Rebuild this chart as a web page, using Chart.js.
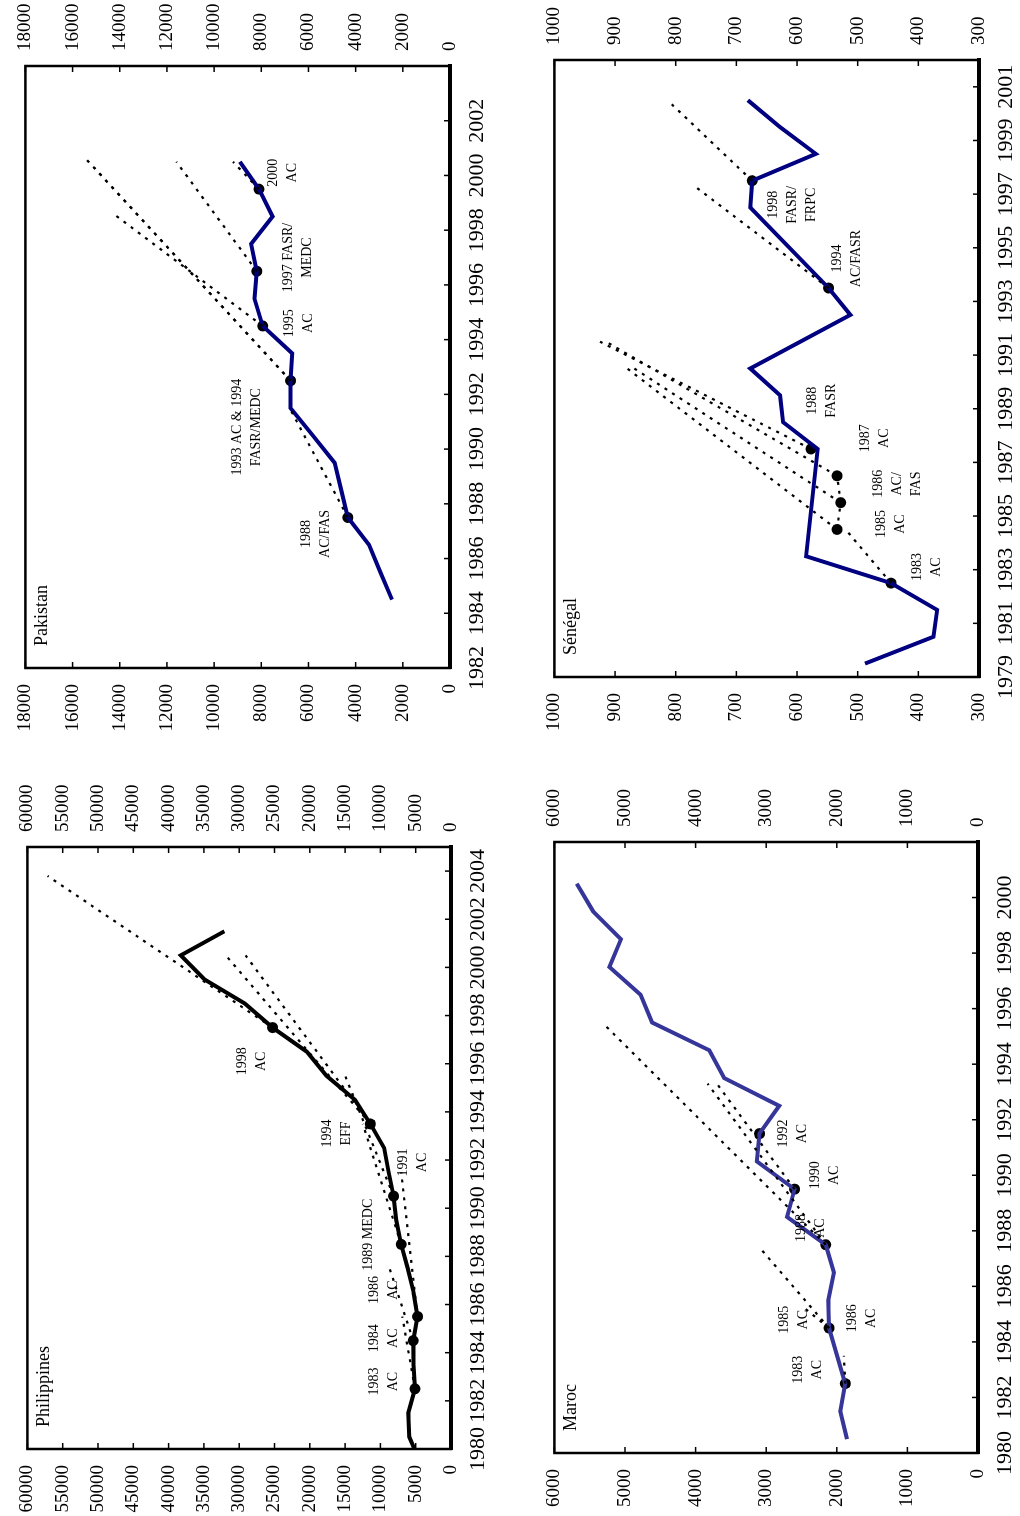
<!DOCTYPE html>
<html>
<head>
<meta charset="utf-8">
<script src="https://cdn.jsdelivr.net/npm/chart.js@4"></script>
<style>
  html, body { margin: 0; padding: 0; background: #fff; width: 1020px; height: 1516px; overflow: hidden; }
  /* the figure is landscape, turned a quarter turn on the page */
  #page { position: absolute; left: 0; top: 0; width: 1516px; height: 1020px;
          transform-origin: 0 0; transform: translateY(1516px) rotate(-90deg); }
  #page canvas { position: absolute; }
</style>
</head>
<body>
<div id="page"></div>
<script>
// ---- Philippines ----
const phYears  = [1979.5, 1980.5, 1981.5, 1982.5, 1983.5, 1984.5, 1985.5, 1986.5, 1987.5, 1988.5, 1989.5, 1990.5,
                  1991.5, 1992.5, 1993.5, 1994.5, 1995.5, 1996.5, 1997.5, 1998.5, 1999.5, 2000.5, 2001.5];
const phValues = [4500, 5900, 6040, 5110, 5300, 5350, 4740, 5300, 6130, 7060, 7760, 8130,
                  8830, 9470, 11420, 13600, 17650, 20430, 25270, 29200, 34920, 38270, 32100];
const phProgYears  = [1982.5, 1984.5, 1985.5, 1988.5, 1990.5, 1993.5, 1997.5];
const phProgValues = [5110, 5350, 4740, 7060, 8130, 11420, 25270];
const phProjections = [
  [[1982.5, 5110], [1985.5, 6900]],
  [[1984.5, 5350], [1987.5, 8700]],
  [[1985.5, 4740], [1991.5, 7060]],
  [[1988.5, 7060], [1993.5, 12500]],
  [[1990.5, 8130], [1995.5, 15000]],
  [[1993.5, 11420], [2000.5, 31900]],
  [[1993.5, 11420], [2000.5, 29100]],
  [[1997.5, 25270], [2003.8, 57150]]
];
const phXTicks = [1980, 1982, 1984, 1986, 1988, 1990, 1992, 1994, 1996, 1998, 2000, 2002, 2004];
const phYTicks = [0, 5000, 10000, 15000, 20000, 25000, 30000, 35000, 40000, 45000, 50000, 55000, 60000];
const phNotes = [
  { x: 1982.8, y: 10900, lines: ['1983', 'AC'] },
  { x: 1984.6, y: 10900, lines: ['1984', 'AC'] },
  { x: 1986.6, y: 10900, lines: ['1986', 'AC'] },
  { x: 1988.9, y: 11700, lines: ['1989 MEDC'] },
  { x: 1991.9, y: 6700, lines: ['1991', 'AC'] },
  { x: 1993.1, y: 17500, lines: ['1994', 'EFF'] },
  { x: 1996.1, y: 29600, lines: ['1998', 'AC'] }
];

// ---- Pakistan ----
const pkYears  = [1984.5, 1985.5, 1986.5, 1987.5, 1988.5, 1989.5, 1990.5, 1991.5, 1992.5, 1993.5,
                  1994.5, 1995.5, 1996.5, 1997.5, 1998.5, 1999.5, 2000.5];
const pkValues = [2460, 2950, 3430, 4330, 4610, 4890, 5820, 6760, 6760, 6690,
                  7940, 8290, 8190, 8430, 7520, 8100, 8910];
const pkProgYears  = [1987.5, 1992.5, 1994.5, 1996.5, 1999.5];
const pkProgValues = [4330, 6760, 7940, 8190, 8100];
const pkProjections = [
  [[1987.5, 4330], [1991.5, 6800]],
  [[1992.5, 6760], [2000.6, 15430]],
  [[1992.5, 6760], [2000.3, 15100]],
  [[1994.5, 7940], [1998.6, 14270]],
  [[1996.5, 8190], [2000.5, 11600]],
  [[1999.5, 8100], [2000.5, 9200]]
];
const pkXTicks = [1982, 1984, 1986, 1988, 1990, 1992, 1994, 1996, 1998, 2000, 2002];
const pkYTicks = [0, 2000, 4000, 6000, 8000, 10000, 12000, 14000, 16000, 18000];
const pkNotes = [
  { x: 1986.9, y: 6070, lines: ['1988', 'AC/FAS'] },
  { x: 1990.8, y: 9020, lines: ['1993 AC & 1994', 'FASR/MEDC'] },
  { x: 1994.6, y: 6830, lines: ['1995', 'AC'] },
  { x: 1997.0, y: 6850, lines: ['1997 FASR/', 'MEDC'] },
  { x: 2000.1, y: 7510, lines: ['2000', 'AC'] }
];

// ---- Maroc ----
const maYears  = [1980.5, 1981.5, 1982.5, 1984.5, 1985.5, 1986.5, 1987.5, 1988.5, 1989.5, 1990.5,
                  1991.5, 1992.5, 1993.5, 1994.5, 1995.5, 1996.5, 1997.5, 1998.5, 1999.5, 2000.5];
const maValues = [1856, 1949, 1880, 2110, 2120, 2040, 2157, 2705, 2598, 3132,
                  3095, 2816, 3595, 3805, 4616, 4779, 5220, 5057, 5451, 5684];
const maProgYears  = [1982.5, 1984.5, 1987.5, 1989.5, 1991.5];
const maProgValues = [1879, 2110, 2157, 2598, 3095];
const maProjections = [
  [[1982.5, 1879], [1983.5, 1900]],
  [[1984.5, 2110], [1987.4, 3095]],
  [[1984.5, 2110], [1985.2, 2450]],
  [[1987.5, 2157], [1995.4, 5283]],
  [[1987.5, 2157], [1993.3, 3830]],
  [[1989.5, 2598], [1993.3, 3700]]
];
const maXTicks = [1980, 1982, 1984, 1986, 1988, 1990, 1992, 1994, 1996, 1998, 2000];
const maYTicks = [0, 1000, 2000, 3000, 4000, 5000, 6000];
const maNotes = [
  { x: 1983.0, y: 2550, lines: ['1983', 'AC'] },
  { x: 1984.8, y: 2750, lines: ['1985', 'AC'] },
  { x: 1984.85, y: 1780, lines: ['1986', 'AC'] },
  { x: 1988.1, y: 2500, lines: ['1988', 'AC'] },
  { x: 1990.0, y: 2300, lines: ['1990', 'AC'] },
  { x: 1991.5, y: 2760, lines: ['1992', 'AC'] }
];

// ---- Sénégal ----
const snYears  = [1979.5, 1980.5, 1981.5, 1982.5, 1983.5, 1987.5, 1988.5, 1989.5, 1990.5, 1992.5,
                  1993.5, 1996.5, 1997.5, 1998.5, 1999.5, 2000.5];
const snValues = [488, 375, 369, 445, 585, 566, 623, 628, 677, 512,
                  548, 677, 674, 569, 628, 681];
const snProgYears  = [1982.5, 1984.5, 1985.5, 1986.5, 1987.5, 1993.5, 1997.5];
const snProgValues = [445, 534, 528, 534, 577, 548, 674];
const snProjections = [
  [[1982.5, 445], [1984.5, 520]],
  [[1984.5, 534], [1985.5, 528], [1986.5, 534]],
  [[1984.5, 534], [1990.5, 880]],
  [[1985.5, 528], [1990.6, 875]],
  [[1986.5, 534], [1991.5, 915]],
  [[1987.5, 577], [1991.5, 925]],
  [[1993.5, 548], [1997.3, 769]],
  [[1997.5, 674], [2000.4, 809]]
];
const snXTicks = [1979, 1981, 1983, 1985, 1987, 1989, 1991, 1993, 1995, 1997, 1999, 2001];
const snYTicks = [300, 400, 500, 600, 700, 800, 900, 1000];
const snNotes = [
  { x: 1983.1, y: 401, lines: ['1983', 'AC'] },
  { x: 1984.7, y: 461, lines: ['1985', 'AC'] },
  { x: 1986.2, y: 466, lines: ['1986', 'AC/', 'FAS'] },
  { x: 1987.9, y: 488, lines: ['1987', 'AC'] },
  { x: 1989.3, y: 574, lines: ['1988', 'FASR'] },
  { x: 1994.6, y: 534, lines: ['1994', 'AC/FASR'] },
  { x: 1996.6, y: 639, lines: ['1998', 'FASR/', 'FRPC'] }
];

const SERIF = '"Liberation Serif"';
const LEFT_W = 70, RIGHT_W = 80, BOTTOM_H = 50, TOP_PAD = 20;

// frame, inward ticks, notes and panel title
const panelDecor = {
  id: 'panelDecor',
  afterDatasetsDraw(chart, args, opts) {
    const { ctx, chartArea: a, scales } = chart;
    ctx.save();
    ctx.strokeStyle = '#000';
    ctx.fillStyle = '#000';
    const seg = (x1, y1, x2, y2) => { ctx.beginPath(); ctx.moveTo(x1, y1); ctx.lineTo(x2, y2); ctx.stroke(); };

    ctx.lineWidth = 1.5;
    scales.x.ticks.forEach(t => {
      const px = scales.x.getPixelForValue(t.value);
      seg(px, a.bottom, px, a.bottom - 6);
    });
    scales.y.ticks.forEach(t => {
      const py = scales.y.getPixelForValue(t.value);
      seg(a.left, py, a.left + 6, py);
      seg(a.right, py, a.right - 6, py);
    });

    ctx.lineWidth = 2.5;
    ctx.strokeRect(a.left, a.top, a.right - a.left, a.bottom - a.top);
    ctx.lineWidth = 4;
    seg(a.left - 1, a.bottom, a.right + 2, a.bottom);

    ctx.font = '14px ' + SERIF;
    ctx.textAlign = 'center';
    ctx.textBaseline = 'middle';
    opts.notes.forEach(n => {
      const px = scales.x.getPixelForValue(n.x);
      const py = scales.y.getPixelForValue(n.y);
      n.lines.forEach((s, i) => ctx.fillText(s, px, py + i * 19));
    });

    ctx.font = '18px ' + SERIF;
    ctx.textAlign = 'left';
    ctx.textBaseline = 'top';
    ctx.fillText(opts.title, a.left + 22, a.top + 8);
    ctx.restore();
  }
};

function makePanel(p) {
  const canvas = document.createElement('canvas');
  const left = Math.round(p.area[0] - LEFT_W);
  const top = Math.round(p.area[1] - TOP_PAD);
  const w = Math.round(p.area[2] - p.area[0]) + LEFT_W + RIGHT_W;
  const h = Math.round(p.area[3] - p.area[1]) + TOP_PAD + BOTTOM_H;
  canvas.width = w;
  canvas.height = h;
  canvas.style.left = left + 'px';
  canvas.style.top = top + 'px';
  document.getElementById('page').appendChild(canvas);

  const datasets = [];
  p.projections.forEach(pr => {
    datasets.push({
      data: pr.map(q => ({ x: q[0], y: q[1] })),
      borderColor: '#000',
      borderWidth: 2.2,
      borderDash: [3, 6],
      pointRadius: 0,
      fill: false
    });
  });
  datasets.push({
    data: p.years.map((x, i) => ({ x: x, y: p.values[i] })),
    borderColor: p.color,
    borderWidth: 4,
    pointRadius: 0,
    fill: false
  });
  datasets.push({
    data: p.progYears.map((x, i) => ({ x: x, y: p.progValues[i] })),
    showLine: false,
    pointRadius: 5.5,
    pointBackgroundColor: '#000',
    pointBorderWidth: 0
  });

  const fmt = v => String(v);
  const yTicks = s => { s.ticks = p.yTicks.map(v => ({ value: v })); };
  const noGrid = { display: false, drawTicks: false };
  new Chart(canvas, {
    type: 'line',
    data: { datasets: datasets },
    options: {
      responsive: false,
      animation: false,
      devicePixelRatio: 1,
      layout: { padding: { top: TOP_PAD, left: 0, right: 0, bottom: 0 }, autoPadding: false },
      plugins: {
        legend: { display: false },
        tooltip: { enabled: false },
        panelDecor: { notes: p.notes, title: p.title }
      },
      scales: {
        x: {
          type: 'linear', position: 'bottom', min: p.xRange[0], max: p.xRange[1],
          afterBuildTicks: s => { s.ticks = p.xTicks.map(v => ({ value: v })); },
          afterFit: s => { s.height = BOTTOM_H; },
          grid: noGrid,
          border: { display: false },
          ticks: { callback: fmt, font: { family: SERIF, size: 22 }, color: '#000', padding: 14, maxRotation: 0, autoSkip: false }
        },
        y: {
          type: 'linear', position: 'left', min: p.yRange[0], max: p.yRange[1],
          afterBuildTicks: yTicks,
          afterFit: s => { s.width = LEFT_W; },
          grid: noGrid,
          border: { display: false },
          ticks: { callback: fmt, font: { family: SERIF, size: 19 }, color: '#000', padding: 16, autoSkip: false }
        },
        y2: {
          type: 'linear', position: 'right', min: p.yRange[0], max: p.yRange[1],
          afterBuildTicks: yTicks,
          afterFit: s => { s.width = RIGHT_W; },
          grid: noGrid,
          border: { display: false },
          ticks: { callback: fmt, font: { family: SERIF, size: 19 }, color: '#000', padding: 15, autoSkip: false }
        }
      }
    },
    plugins: [panelDecor]
  });
}

function buildAll() {
  makePanel({
    title: 'Philippines', area: [67, 20, 669, 450.7], color: '#000',
    years: phYears, values: phValues, progYears: phProgYears, progValues: phProgValues,
    projections: phProjections, notes: phNotes,
    xRange: [1980, 2005], yRange: [0, 60000], xTicks: phXTicks, yTicks: phYTicks
  });
  makePanel({
    title: 'Pakistan', area: [847.5, 18.3, 1449.3, 450.7], color: '#000080',
    years: pkYears, values: pkValues, progYears: pkProgYears, progValues: pkProgValues,
    projections: pkProjections, notes: pkNotes,
    xRange: [1982, 2004], yRange: [0, 18000], xTicks: pkXTicks, yTicks: pkYTicks
  });
  makePanel({
    title: 'Maroc', area: [62.7, 547.3, 674, 978.3], color: '#35359a',
    years: maYears, values: maValues, progYears: maProgYears, progValues: maProgValues,
    projections: maProjections, notes: maNotes,
    xRange: [1980, 2002], yRange: [0, 6000], xTicks: maXTicks, yTicks: maYTicks
  });
  makePanel({
    title: 'Sénégal', area: [839.3, 547.3, 1456.7, 979.3], color: '#000080',
    years: snYears, values: snValues, progYears: snProgYears, progValues: snProgValues,
    projections: snProjections, notes: snNotes,
    xRange: [1979, 2002], yRange: [300, 1000], xTicks: snXTicks, yTicks: snYTicks
  });
}

// wait for the serif face before drawing on the canvases
Promise.all([14, 18, 19, 22].map(s => document.fonts.load(s + 'px ' + SERIF)))
  .then(buildAll, buildAll);
</script>
</body>
</html>
